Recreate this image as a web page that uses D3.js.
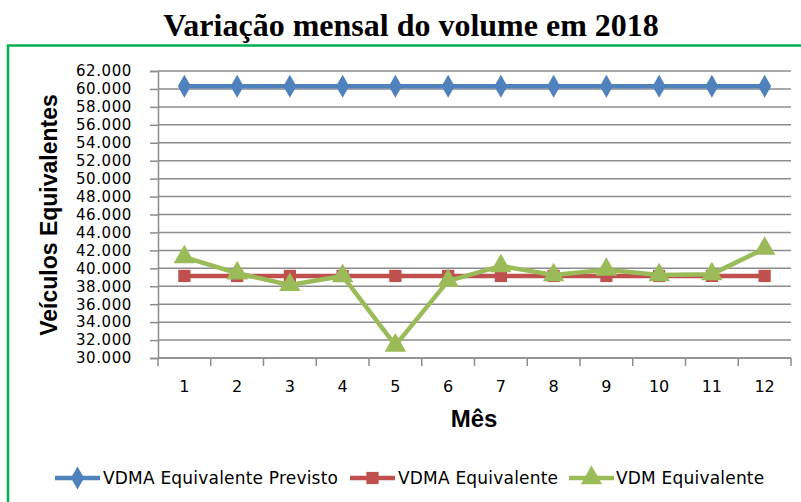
<!DOCTYPE html>
<html><head><meta charset="utf-8">
<script src="https://cdn.jsdelivr.net/npm/d3@7"></script>
<style>body{margin:0;background:#fff}svg{display:block}</style>
</head><body>
<svg id="c" width="801" height="502"></svg>
<script>
const months = [1,2,3,4,5,6,7,8,9,10,11,12];
const vdmaPrevisto = [60300,60300,60300,60300,60300,60300,60300,60300,60300,60300,60300,60300];
const vdma = [39150,39150,39150,39150,39150,39150,39150,39150,39150,39150,39150,39150];
const vdm = [41250,39450,38150,39150,31400,38600,40250,39250,39850,39250,39350,42200];
const yTicks = [30000,32000,34000,36000,38000,40000,42000,44000,46000,48000,50000,52000,54000,56000,58000,60000,62000];
const seriesNames = ["VDMA Equivalente Previsto","VDMA Equivalente","VDM Equivalente"];
const colors = ["#4F81BD","#C0504D","#9BBB59"];

const svg = d3.select("#c");
const L = 158, R = 791, T = 71, B = 358;

svg.append("rect").attr("x",8).attr("y",45.5).attr("width",820).attr("height",500)
  .attr("fill","none").attr("stroke","#00B050").attr("stroke-width",2.5);

svg.append("text").attr("x",411).attr("y",36).attr("text-anchor","middle")
  .attr("font-family","Liberation Serif, Times New Roman, serif").attr("font-weight","bold")
  .attr("font-size",32).text("Variação mensal do volume em 2018");

const x = d3.scaleBand().domain(months).range([L,R]);
const y = d3.scaleLinear().domain([30000,62000]).range([B,T]);

svg.append("g").selectAll("line").data(yTicks).join("line")
  .attr("x1",L).attr("x2",R).attr("y1",d=>y(d)).attr("y2",d=>y(d))
  .attr("stroke","#8c8c8c").attr("stroke-width",1.5);

const yAxis = d3.axisLeft(y).tickValues(yTicks).tickSize(8).tickPadding(18)
  .tickFormat(d => d3.format(",.0f")(d).replace(/,/g,"."));
const gy = svg.append("g").attr("transform",`translate(${L},0)`).call(yAxis);
gy.select(".domain").attr("stroke","#8c8c8c").attr("stroke-width",1.5);
gy.selectAll(".tick line").attr("stroke","#8c8c8c").attr("stroke-width",1.5);
gy.selectAll("text").attr("font-family","DejaVu Sans").attr("font-size",15)
  .attr("letter-spacing",0.6).attr("fill","#000");

const gx = svg.append("g").attr("transform",`translate(0,${B})`);
gx.append("line").attr("x1",L).attr("x2",R).attr("stroke","#8c8c8c").attr("stroke-width",1.5);
const bounds = months.map(m=>x(m)).concat([R]);
gx.selectAll("line.tk").data(bounds).join("line").attr("class","tk")
  .attr("x1",d=>d).attr("x2",d=>d).attr("y1",0).attr("y2",8)
  .attr("stroke","#8c8c8c").attr("stroke-width",1.5);
gx.selectAll("text").data(months).join("text")
  .attr("x",d=>x(d)+x.bandwidth()/2).attr("y",34).attr("text-anchor","middle")
  .attr("font-family","DejaVu Sans").attr("font-size",16).text(d=>d);

svg.append("text").attr("x",474).attr("y",427).attr("text-anchor","middle")
  .attr("font-family","Liberation Sans, Arial").attr("font-weight","bold").attr("font-size",24).text("Mês");
svg.append("text").attr("transform","translate(57,215) rotate(-90)").attr("text-anchor","middle")
  .attr("font-family","Liberation Sans, Arial").attr("font-weight","bold").attr("font-size",23).text("Veículos Equivalentes");

const cx = d => x(d)+x.bandwidth()/2;
const symbols = [d3.symbolDiamond, d3.symbolSquare, d3.symbolTriangle];
const symSizes = [150,150,200];
const data = [vdmaPrevisto, vdma, vdm];
const line = d3.line().x((d,i)=>cx(months[i])).y(d=>y(d));
data.forEach((vals,s)=>{
  const g = svg.append("g");
  g.append("path").attr("d",line(vals)).attr("fill","none").attr("stroke",colors[s]).attr("stroke-width",4.5);
  g.selectAll("path.m").data(vals).join("path").attr("class","m")
    .attr("transform",(d,i)=>`translate(${cx(months[i])},${y(d)})`)
    .attr("d",d3.symbol().type(symbols[s]).size(symSizes[s])).attr("fill",colors[s]);
});

const leg = [{x:55,tx:103},{x:350,tx:398},{x:569,tx:616}];
leg.forEach((p,s)=>{
  const g = svg.append("g").attr("transform",`translate(0,478)`);
  g.append("line").attr("x1",p.x).attr("x2",p.x+45).attr("stroke",colors[s]).attr("stroke-width",4.5);
  g.append("path").attr("transform",`translate(${p.x+22.5},0)`)
    .attr("d",d3.symbol().type(symbols[s]).size(symSizes[s])).attr("fill",colors[s]);
  g.append("text").attr("x",p.tx).attr("y",6).attr("font-family","DejaVu Sans")
    .attr("font-size",17).attr("letter-spacing",0.2).text(seriesNames[s]);
});
</script>
</body></html>
